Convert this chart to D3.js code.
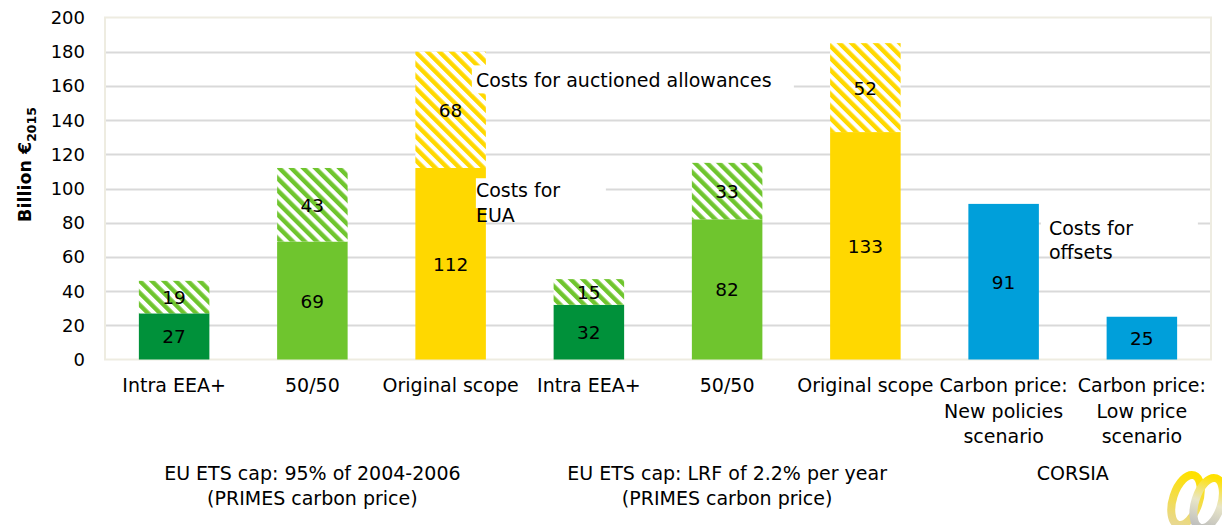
<!DOCTYPE html>
<html lang="en">
<head>
  <meta charset="UTF-8" />
  <title>Costs of allowances and offsets</title>
  <script src="https://d3js.org/d3.v7.min.js"></script>
  <style>
    body {
      margin: 0;
      background: #fff;
    }
    svg text {
      font-family: "DejaVu Sans", sans-serif;
      font-size: 19px;
      fill: #000;
    }
  </style>
</head>
<body>
  <div id="chart"></div>
  <script>
    // categories (two lines where the label wraps)
    const categories = [
      ["Intra EEA+"], ["50/50"], ["Original scope"],
      ["Intra EEA+"], ["50/50"], ["Original scope"],
      ["Carbon price:", "New policies", "scenario"],
      ["Carbon price:", "Low price", "scenario"]
    ];
    // solid part of each bar (EUA / offsets)
    const baseValues = [27, 69, 112, 32, 82, 133, 91, 25];
    // hatched part on top (auctioned allowances), null = none
    const auctionValues = [19, 43, 68, 15, 33, 52, null, null];
    const barColors = ["#00913a", "#6fc52e", "#ffd800", "#00913a", "#6fc52e", "#ffd800", "#009fda", "#009fda"];
    const groups = [
      { from: 0, to: 2, lines: ["EU ETS cap: 95% of 2004-2006", "(PRIMES carbon price)"] },
      { from: 3, to: 5, lines: ["EU ETS cap: LRF of 2.2% per year", "(PRIMES carbon price)"] },
      { from: 6, to: 7, lines: ["CORSIA"] }
    ];
    const yTicks = [0, 20, 40, 60, 80, 100, 120, 140, 160, 180, 200];

    const width = 1222, height = 525;
    const margin = { top: 17.5, right: 11, bottom: 165.5, left: 105 };

    const svg = d3.select("#chart").append("svg")
      .attr("width", width)
      .attr("height", height);

    const x = d3.scaleBand()
      .domain(d3.range(categories.length))
      .range([margin.left, width - margin.right])
      .paddingInner(0.49)
      .paddingOuter(0.245);

    const y = d3.scaleLinear()
      .domain([0, 200])
      .range([height - margin.bottom, margin.top]);

    // hatch patterns, one per colour
    const defs = svg.append("defs");
    ["#00913a", "#6fc52e", "#ffd800"].forEach(c => {
      const p = defs.append("pattern")
        .attr("id", "hatch" + c.slice(1))
        .attr("patternUnits", "userSpaceOnUse")
        .attr("width", 8.5)
        .attr("height", 8.5)
        .attr("patternTransform", "rotate(-45)");
      p.append("rect").attr("width", 8.5).attr("height", 8.5).attr("fill", "#fff");
      p.append("rect").attr("width", 4.4).attr("height", 8.5).attr("fill", c === "#00913a" ? "#6fc52e" : c);
    });

    // gridlines
    svg.append("g")
      .selectAll("line")
      .data(yTicks.filter(t => t > 0 && t < 200))
      .join("line")
      .attr("x1", margin.left)
      .attr("x2", width - margin.right)
      .attr("y1", d => Math.round(y(d)) + 0.5)
      .attr("y2", d => Math.round(y(d)) + 0.5)
      .attr("stroke", "#d9d9d9")
      .attr("stroke-width", 2);

    // plot border
    svg.append("rect")
      .attr("x", margin.left)
      .attr("y", margin.top)
      .attr("width", width - margin.right - margin.left)
      .attr("height", y(0) - margin.top)
      .attr("fill", "none")
      .attr("stroke", "#eeece1")
      .attr("stroke-width", 2);

    // tick labels
    svg.append("g")
      .selectAll("text")
      .data(yTicks)
      .join("text")
      .attr("x", 85)
      .attr("y", d => y(d) + 6.5)
      .attr("text-anchor", "end")
      .style("font-size", "18px")
      .text(d => d);

    // bars
    const bars = svg.append("g");
    baseValues.forEach((v, i) => {
      bars.append("rect")
        .attr("x", x(i))
        .attr("y", y(v))
        .attr("width", x.bandwidth())
        .attr("height", y(0) - y(v))
        .attr("fill", barColors[i]);
      bars.append("text")
        .attr("x", x(i) + x.bandwidth() / 2)
        .attr("y", (y(0) + y(v)) / 2 + 7)
        .attr("text-anchor", "middle")
        .style("font-size", "18.5px")
        .text(v);

      const a = auctionValues[i];
      if (a != null) {
        bars.append("rect")
          .attr("x", x(i))
          .attr("y", y(v + a))
          .attr("width", x.bandwidth())
          .attr("height", y(v) - y(v + a))
          .attr("fill", "url(#hatch" + barColors[i].slice(1) + ")");
        bars.append("text")
          .attr("x", x(i) + x.bandwidth() / 2)
          .attr("y", (y(v) + y(v + a)) / 2 + 7)
          .attr("text-anchor", "middle")
          .style("font-size", "18.5px")
          .text(a);
      }
    });

    // annotations with white boxes
    function note(lines, tx, ty, box) {
      svg.append("rect")
        .attr("x", box[0]).attr("y", box[1])
        .attr("width", box[2]).attr("height", box[3])
        .attr("fill", "#fff");
      const t = svg.append("text").attr("x", tx).attr("y", ty);
      lines.forEach((l, k) => {
        t.append("tspan").attr("x", tx).attr("dy", k === 0 ? 0 : 24.5).text(l);
      });
    }
    note(["Costs for auctioned allowances"], x(2) + x.bandwidth() - 10, y(160) + 1, [x(2) + x.bandwidth() - 14, y(172), 322, 28]);
    note(["Costs for", "EUA"], x(2) + x.bandwidth() - 10, y(95), [x(2) + x.bandwidth() - 10, y(106), 130, 30]);
    note(["Costs for", "offsets"], x(6) + x.bandwidth() + 10, y(73), [x(6) + x.bandwidth() + 2, y(84), 157, 26]);

    // category labels
    svg.append("g")
      .selectAll("text")
      .data(categories)
      .join("text")
      .attr("x", (d, i) => x(i) + x.bandwidth() / 2)
      .attr("y", 392)
      .attr("text-anchor", "middle")
      .each(function (d) {
        const t = d3.select(this);
        d.forEach((l, k) => {
          t.append("tspan")
            .attr("x", t.attr("x"))
            .attr("dy", k === 0 ? 0 : 25.5)
            .text(l);
        });
      });

    // group labels
    groups.forEach(g => {
      const cx = (x(g.from) + x(g.to) + x.bandwidth()) / 2;
      const t = svg.append("text")
        .attr("x", cx)
        .attr("y", 480)
        .attr("text-anchor", "middle");
      g.lines.forEach((l, k) => {
        t.append("tspan").attr("x", cx).attr("dy", k === 0 ? 0 : 24.5).text(l);
      });
    });

    // y axis title
    const yt = svg.append("text")
      .attr("transform", `translate(31,${(y(0) + y(200)) / 2 - 24}) rotate(-90)`)
      .attr("text-anchor", "middle")
      .style("font-weight", "bold")
      .style("font-size", "17.5px");
    yt.append("tspan").text("Billion  €");
    yt.append("tspan").attr("dy", 5).style("font-size", "12.5px").text("2015");

    // logo at the corner
    const grad = defs.append("linearGradient").attr("id", "ly").attr("x1", 0).attr("y1", 0).attr("x2", 0).attr("y2", 1);
    grad.append("stop").attr("offset", 0).attr("stop-color", "#ffe100");
    grad.append("stop").attr("offset", 1).attr("stop-color", "#e8d890");
    const grad2 = defs.append("linearGradient").attr("id", "lg").attr("x1", 0).attr("y1", 0).attr("x2", 0).attr("y2", 1);
    grad2.append("stop").attr("offset", 0).attr("stop-color", "#ffe100");
    grad2.append("stop").attr("offset", 0.5).attr("stop-color", "#e9e6c8");
    grad2.append("stop").attr("offset", 1).attr("stop-color", "#bdbdbd");
    const logo = svg.append("g").attr("transform", "translate(1186,500) rotate(18)");
    logo.append("ellipse").attr("cx", 0).attr("cy", 0).attr("rx", 13).attr("ry", 26)
      .attr("fill", "none").attr("stroke", "url(#ly)").attr("stroke-width", 8);
    logo.append("ellipse").attr("cx", 22).attr("cy", -4).attr("rx", 13).attr("ry", 26)
      .attr("fill", "none").attr("stroke", "url(#lg)").attr("stroke-width", 8);
  </script>
</body>
</html>
